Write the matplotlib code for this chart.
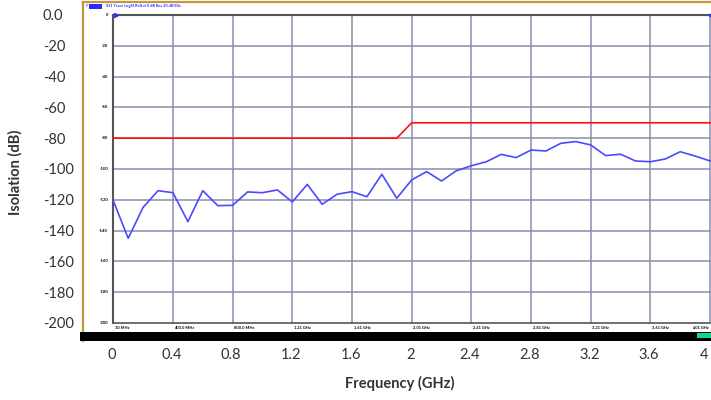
import numpy as np
import matplotlib
matplotlib.use("Agg")
import matplotlib.pyplot as plt

# data
freq_ghz = [0.01 + 0.1 * k for k in range(41)]
isolation_db = [-120.6, -145.0, -124.9, -114.1, -115.4, -134.2, -114.1, -123.8, -123.6, -114.9,
                -115.4, -113.6, -121.4, -110.0, -122.9, -116.4, -114.7, -118.0, -103.4, -119.0,
                -107.1, -101.7, -107.8, -101.1, -97.9, -95.3, -90.5, -92.6, -87.7, -88.3,
                -83.3, -82.2, -84.4, -91.3, -90.4, -94.8, -95.3, -93.5, -88.8, -91.6, -94.8]
limit_ghz = [0.01, 1.91, 2.01, 4.01]
limit_db = [-80, -80, -70, -70]

outer_xticks = [0, 0.4, 0.8, 1.2, 1.6, 2, 2.4, 2.8, 3.2, 3.6, 4]
outer_xlabels = ["0", "0.4", "0.8", "1.2", "1.6", "2", "2.4", "2.8", "3.2", "3.6", "4"]
outer_yticks = [0, -20, -40, -60, -80, -100, -120, -140, -160, -180, -200]
outer_ylabels = ["0.0", "-20", "-40", "-60", "-80", "-100", "-120", "-140", "-160", "-180", "-200"]

# the analyzer screen grid (10 MHz .. 4.01 GHz)
grid_ghz = [0.01 + 0.4 * k for k in range(11)]
grid_labels = ["10 MHz", "400.0 MHz", "800.0 MHz", "1.21 GHz", "1.61 GHz", "2.01 GHz",
               "2.41 GHz", "2.81 GHz", "3.21 GHz", "3.61 GHz", "4.01 GHz"]
grid_db = [0, -20, -40, -60, -80, -100, -120, -140, -160, -180, -200]

plt.rcParams['font.family'] = ['Lato', 'DejaVu Sans']

fig = plt.figure(figsize=(7.11, 4.0), dpi=100)
ax = fig.add_axes([83 / 711, 59 / 400, 628 / 711, 339 / 400])
ax.set_xlim(-0.193, 4.016)
ax.set_ylim(-211.7, 8.44)

gridc = '#8c8cae'
for g in grid_ghz[1:]:
    ax.plot([g, g], [-200, 0], color=gridc, lw=1.1, zorder=1)
for d in grid_db[1:-1]:
    ax.plot([0.01, 4.01], [d, d], color=gridc, lw=1.1, zorder=1)
# screen frame
ax.plot([0.01, 0.01], [-200, 0], color='#555555', lw=1.5, zorder=2)
ax.plot([0.01, 4.01], [0, 0], color='#555555', lw=1.5, zorder=2)
ax.plot([0.01, 4.01], [-200, -200], color='#555555', lw=1.2, zorder=2)

# traces
ax.plot(limit_ghz, limit_db, color='#ff1010', lw=1.2, zorder=3)
ax.plot(freq_ghz, isolation_db, color='#4a4aff', lw=1.2, zorder=4)
ax.plot([0.03], [0], marker='>', ms=3, color='#3030ff', zorder=5)
ax.plot([4.01], [0], marker='o', ms=1.5, color='#3030ff', zorder=5)

# tiny analyzer labels
for d in grid_db:
    ax.text(-0.025, d, str(d), fontsize=3, fontweight='bold', ha='right', va='center')
for g, lab in zip(grid_ghz[:-1], grid_labels[:-1]):
    ax.text(g + 0.01, -203.2, lab, fontsize=2.9, fontweight='bold', ha='left', va='center')
ax.text(grid_ghz[-1] - 0.01, -203.2, grid_labels[-1], fontsize=2.9, fontweight='bold',
        ha='right', va='center')
ax.add_patch(plt.Rectangle((-0.15, 3.9), 0.085, 3.2, color='#2a2aff', lw=0))
ax.text(-0.175, 5.6, "P", fontsize=2.8, color='#2a2aff', ha='left', va='center')
ax.text(-0.04, 5.6, "S21 Trace LogM RefLvl 0 dB Res 20 dB/Div", fontsize=2.8,
        color='#2a2aff', fontweight='bold', ha='left', va='center')

# black status bar
ax.add_patch(plt.Rectangle((-0.004, 0), 1.01, 9 / 339, transform=ax.transAxes,
                           color='black', lw=0, zorder=6, clip_on=False))
ax.add_patch(plt.Rectangle((3.92, -209.7), 0.1, 3.2, color='#10d890', lw=0, zorder=7))

# outer chart frame and ticks
for s in ['right', 'bottom']:
    ax.spines[s].set_visible(False)
for s in ['left', 'top']:
    ax.spines[s].set_color('#c8963c')
    ax.spines[s].set_linewidth(1.6)
    ax.spines[s].set_zorder(1.5)

ax.set_xticks(outer_xticks)
ax.set_xticklabels(outer_xlabels, fontsize=10.5, color='#333333')
ax.get_xticklabels()[-1].set_ha('right')
ax.set_yticks(outer_yticks)
ax.set_yticklabels(outer_ylabels, fontsize=10.5, color='#333333', ha='left')
ax.tick_params(axis='x', length=0, pad=5)
ax.tick_params(axis='y', length=0, pad=29)

fig.text(15 / 711, 1 - 172 / 400, "Isolation (dB)", rotation=90, fontsize=10.5,
         fontweight='bold', color='#333333', ha='center', va='center')
fig.text(400 / 711, 1 - 383 / 400, "Frequency (GHz)", fontsize=10.5,
         fontweight='bold', color='#333333', ha='center', va='center')

fig.savefig("out.png", dpi=100)
